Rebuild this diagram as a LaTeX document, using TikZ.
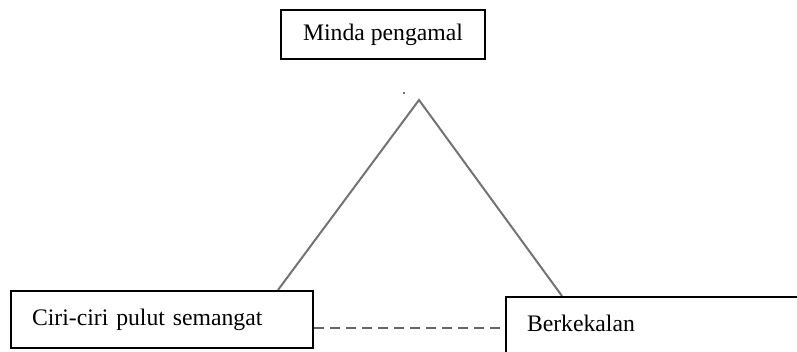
\documentclass[tikz,border=0pt]{standalone}
\usepackage{fontspec}
\setmainfont{Liberation Serif}
\begin{document}
\begin{tikzpicture}[x=1pt,y=1pt,
  box/.style={draw=black,line width=2pt,fill=white,font=\fontsize{23.7}{28}\selectfont},
  tri/.style={draw=black!55,line width=2pt},
  dline/.style={draw=black!60,line width=2pt,dash pattern=on 10pt off 6pt}]
\useasboundingbox (0,0) rectangle (797,352);
\clip (0,0) rectangle (797,352);
\fill[white] (0,0) rectangle (797,352);
% apex and feet
\coordinate (apex) at (419,252);
\coordinate (lfoot) at (278,62);
\coordinate (rfoot) at (562,56);
\draw[tri] (lfoot) -- (apex) -- (rfoot);
\fill[black!55] (402.7,257.7) rectangle (405.3,260.3);
% boxes
\node[box,minimum width=204pt,minimum height=49pt,inner sep=0pt] (minda) at (383,317.5) {Minda pengamal};
\node[box,anchor=north west,minimum height=57pt,text width=260pt,align=left,inner xsep=21pt,inner ysep=0pt] (ciri) at (10,62) {Ciri-ciri pulut semangat};
\node[box,anchor=north west,text width=300pt,align=left,inner xsep=21pt,inner ysep=18pt,text depth=60pt] (berk) at (505,56) {Berkekalan};
\coordinate (dy) at (0,24);
\draw[dline] (ciri.east |- dy) -- (berk.west |- dy);
\end{tikzpicture}
\end{document}
